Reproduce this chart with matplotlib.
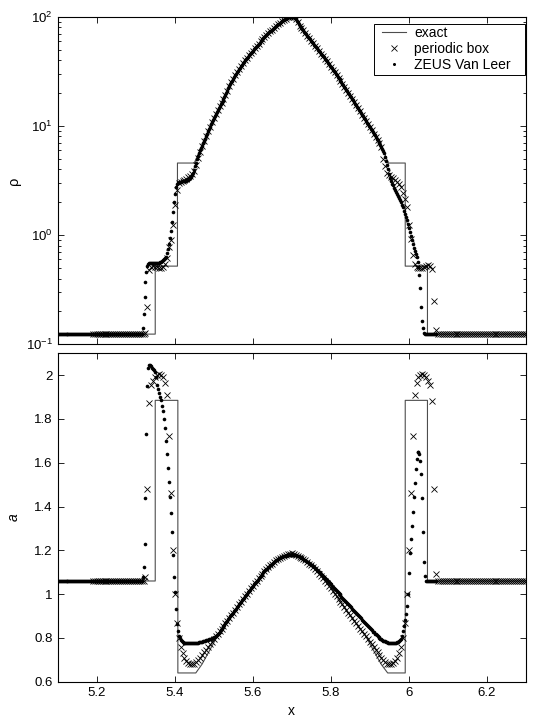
#-------------------------------------------------------------------------------
# plot.py
#
# Density rho (log scale) and a versus x: exact solution against the
# periodic box run and the ZEUS Van Leer run.
#-------------------------------------------------------------------------------

import numpy as np
import matplotlib
matplotlib.use('Agg')
import matplotlib.pyplot as plt
from matplotlib.lines import Line2D
from matplotlib.legend_handler import HandlerLine2D

#-------------------------------------------------------------------------------
# Exact solution, drawn as a line through these vertices.

x_exact_rho = [5.10, 5.35, 5.35, 5.407, 5.407, 5.45, 5.465, 5.48, 5.50, 5.525,
               5.55, 5.575, 5.60, 5.625, 5.65, 5.67, 5.685, 5.70, 5.71, 5.72,
               5.74, 5.76, 5.78, 5.80, 5.82, 5.84, 5.86, 5.88, 5.90, 5.92,
               5.935, 5.948, 5.991, 5.991, 6.048, 6.048, 6.30]
rho_exact = [0.124, 0.124, 0.52, 0.52, 4.57, 4.57, 6.0, 8.0, 11.8, 17.5,
             27.0, 37.5, 49.0, 62.0, 76.0, 88.0, 96.0, 100.0, 95.0, 83.0,
             67.0, 54.0, 43.5, 34.5, 27.5, 21.5, 16.5, 12.7, 9.7, 7.4,
             5.9, 4.57, 4.57, 0.52, 0.52, 0.124, 0.124]

x_exact_a = [5.10, 5.35, 5.35, 5.408, 5.408, 5.454, 5.47, 5.49, 5.51, 5.52,
             5.54, 5.56, 5.58, 5.60, 5.62, 5.64, 5.66, 5.68, 5.6975, 5.715,
             5.735, 5.755, 5.775, 5.795, 5.815, 5.835, 5.855, 5.875, 5.89, 5.91,
             5.93, 5.946, 5.991, 5.991, 6.048, 6.048, 6.30]
a_exact = [1.06, 1.06, 1.885, 1.885, 0.64, 0.64, 0.68, 0.745, 0.81, 0.843,
           0.892, 0.94, 0.99, 1.038, 1.083, 1.122, 1.154, 1.176, 1.186, 1.176,
           1.154, 1.122, 1.083, 1.038, 0.99, 0.94, 0.892, 0.843, 0.807, 0.742,
           0.678, 0.64, 0.64, 1.885, 1.885, 1.06, 1.06]

#-------------------------------------------------------------------------------
# Periodic box run: one value per cell, cells every 0.005 from 5.19 to 6.30.

x_box = np.round(np.arange(5.19, 6.30 + 1e-9, 0.005), 4)

rho_box = [
    0.124, 0.124, 0.124, 0.124, 0.124, 0.124, 0.124, 0.124, 0.124, 0.124,  # 5.19
    0.124, 0.124, 0.124, 0.124, 0.124, 0.124, 0.124, 0.124, 0.124, 0.124,  # 5.24
    0.124, 0.124, 0.124, 0.124, 0.124, 0.124, 0.124, 0.126, 0.22, 0.48,    # 5.29
    0.51, 0.52, 0.515, 0.51, 0.50, 0.50, 0.51, 0.54, 0.62, 0.78,           # 5.34
    0.90, 1.25, 1.9, 2.6, 3.0, 3.07, 3.14, 3.2, 3.28, 3.38,                # 5.39
    3.5, 3.65, 3.85, 4.4, 5.1, 5.8, 6.5, 7.2, 8.0, 8.9,                    # 5.44
    9.8, 10.8, 11.8, 12.9, 14.0, 15.1, 16.3, 17.5, 19.2, 21.0,             # 5.49
    23.0, 25.0, 27.0, 29.0, 31.0, 33.2, 35.3, 37.5, 39.8, 42.0,            # 5.54
    44.3, 46.6, 49.0, 51.5, 54.0, 56.6, 59.3, 62.0, 64.8, 67.6,            # 5.59
    70.3, 73.2, 76.0, 79.0, 82.0, 85.0, 88.0, 91.0, 94.0, 96.0,            # 5.64
    98.5, 99.5, 100.0, 98.5, 95.0, 89.0, 83.0, 79.0, 75.0, 71.0,           # 5.69
    67.0, 63.5, 60.3, 57.1, 54.0, 51.3, 48.5, 46.0, 43.5, 41.2,            # 5.74
    38.9, 36.7, 34.5, 32.7, 30.9, 29.2, 27.5, 25.9, 24.4, 22.9,            # 5.79
    21.5, 20.2, 18.9, 17.7, 16.5, 15.5, 14.5, 13.6, 12.7, 11.9,            # 5.84
    11.1, 10.4, 9.7, 9.1, 8.5, 7.9, 7.4, 6.9, 6.4, 5.0,                    # 5.89
    4.3, 3.7, 3.55, 3.42, 3.3, 3.18, 3.06, 2.93, 2.76, 2.45,               # 5.94
    2.15, 1.8, 1.25, 0.93, 0.66, 0.54, 0.51, 0.50, 0.50, 0.505,            # 5.99
    0.51, 0.52, 0.53, 0.52, 0.49, 0.25, 0.135, 0.124, 0.124, 0.124,        # 6.04
    0.124, 0.124, 0.124, 0.124, 0.124, 0.124, 0.124, 0.124, 0.124, 0.124,  # 6.09
    0.124, 0.124, 0.124, 0.124, 0.124, 0.124, 0.124, 0.124, 0.124, 0.124,  # 6.14
    0.124, 0.124, 0.124, 0.124, 0.124, 0.124, 0.124, 0.124, 0.124, 0.124,  # 6.19
    0.124, 0.124, 0.124, 0.124, 0.124, 0.124, 0.124, 0.124, 0.124, 0.124,  # 6.24
    0.124, 0.124, 0.124]                                                   # 6.29

a_box = [
    1.06, 1.06, 1.06, 1.06, 1.06, 1.06, 1.06, 1.06, 1.06, 1.06,                      # 5.19
    1.06, 1.06, 1.06, 1.06, 1.06, 1.06, 1.06, 1.06, 1.06, 1.06,                      # 5.24
    1.06, 1.06, 1.06, 1.06, 1.06, 1.06, 1.06, 1.08, 1.48, 1.875,                     # 5.29
    1.955, 1.975, 1.99, 2.0, 2.005, 2.0, 1.99, 1.965, 1.91, 1.72,                    # 5.34
    1.46, 1.2, 1.0, 0.87, 0.80, 0.76, 0.73, 0.71, 0.695, 0.685,                      # 5.39
    0.68, 0.679, 0.682, 0.688, 0.698, 0.71, 0.723, 0.735, 0.747, 0.759,              # 5.44
    0.771, 0.783, 0.795, 0.807, 0.819, 0.831, 0.843, 0.855, 0.867, 0.879,            # 5.49
    0.892, 0.904, 0.916, 0.928, 0.94, 0.953, 0.965, 0.978, 0.99, 1.002,              # 5.54
    1.014, 1.026, 1.038, 1.05, 1.061, 1.072, 1.083, 1.094, 1.104, 1.113,             # 5.59
    1.122, 1.131, 1.139, 1.147, 1.154, 1.16, 1.166, 1.171, 1.176, 1.18,              # 5.64
    1.183, 1.185, 1.186, 1.184, 1.18, 1.176, 1.171, 1.166, 1.16, 1.154,              # 5.69
    1.147, 1.139, 1.131, 1.122, 1.113, 1.104, 1.094, 1.083, 1.072, 1.061,            # 5.74
    1.05, 1.038, 1.026, 1.014, 1.002, 0.99, 0.978, 0.965, 0.953, 0.94,               # 5.79
    0.928, 0.916, 0.904, 0.892, 0.879, 0.867, 0.855, 0.843, 0.831, 0.819,            # 5.84
    0.807, 0.795, 0.783, 0.771, 0.759, 0.747, 0.735, 0.723, 0.71, 0.698,             # 5.89
    0.688, 0.682, 0.679, 0.68, 0.685, 0.695, 0.71, 0.73, 0.76, 0.80,                 # 5.94
    0.87, 1.0, 1.2, 1.46, 1.72, 1.91, 1.965, 1.99, 2.0, 2.005,                       # 5.99
    2.0, 1.99, 1.975, 1.955, 1.88, 1.48, 1.09, 1.06, 1.06, 1.06,                     # 6.04
    1.06, 1.06, 1.06, 1.06, 1.06, 1.06, 1.06, 1.06, 1.06, 1.06,                      # 6.09
    1.06, 1.06, 1.06, 1.06, 1.06, 1.06, 1.06, 1.06, 1.06, 1.06,                      # 6.14
    1.06, 1.06, 1.06, 1.06, 1.06, 1.06, 1.06, 1.06, 1.06, 1.06,                      # 6.19
    1.06, 1.06, 1.06, 1.06, 1.06, 1.06, 1.06, 1.06, 1.06, 1.06,                      # 6.24
    1.06, 1.06, 1.06]                                                                # 6.29

#-------------------------------------------------------------------------------
# ZEUS Van Leer run: cells every 0.0025 from 5.10 to 6.07.

x_zeus = np.round(np.arange(5.10, 6.07 + 1e-9, 0.0025), 5)

rho_zeus = [
    0.124, 0.124, 0.124, 0.124, 0.124, 0.124, 0.124, 0.124, 0.124, 0.124,
    0.124, 0.124, 0.124, 0.124, 0.124, 0.124, 0.124, 0.124, 0.124, 0.124,  # 5.10
    0.124, 0.124, 0.124, 0.124, 0.124, 0.124, 0.124, 0.124, 0.124, 0.124,
    0.124, 0.124, 0.124, 0.124, 0.124, 0.124, 0.124, 0.124, 0.124, 0.124,  # 5.15
    0.124, 0.124, 0.124, 0.124, 0.124, 0.124, 0.124, 0.124, 0.124, 0.124,
    0.124, 0.124, 0.124, 0.124, 0.124, 0.124, 0.124, 0.124, 0.124, 0.124,  # 5.20
    0.124, 0.124, 0.124, 0.124, 0.124, 0.124, 0.124, 0.124, 0.124, 0.124,
    0.124, 0.124, 0.124, 0.124, 0.124, 0.124, 0.124, 0.124, 0.124, 0.124,  # 5.25
    0.124, 0.124, 0.124, 0.124, 0.124, 0.124, 0.124, 0.14, 0.19, 0.27,
    0.37, 0.46, 0.52, 0.545, 0.55, 0.55, 0.55, 0.55, 0.55, 0.55,           # 5.30
    0.55, 0.552, 0.555, 0.558, 0.56, 0.565, 0.57, 0.58, 0.59, 0.60,
    0.615, 0.635, 0.68, 0.74, 0.83, 0.95, 1.10, 1.32, 1.62, 2.0,           # 5.35
    2.4, 2.75, 2.95, 3.03, 3.06, 3.08, 3.09, 3.10, 3.10, 3.11,
    3.12, 3.13, 3.15, 3.17, 3.2, 3.25, 3.32, 3.42, 3.55, 3.72,             # 5.40
    3.95, 4.25, 4.6, 4.95, 5.3, 5.65, 6.0, 6.3, 6.6, 6.95,
    7.3, 7.65, 8.0, 8.45, 8.9, 9.35, 9.8, 10.3, 10.8, 11.3,                # 5.45
    11.8, 12.35, 12.9, 13.45, 14.0, 14.55, 15.1, 15.7, 16.3, 16.9,
    17.5, 18.35, 19.2, 20.1, 21.0, 22.0, 23.0, 24.0, 25.0, 26.0,           # 5.50
    27.0, 28.0, 29.0, 30.0, 31.0, 32.1, 33.2, 34.2, 35.3, 36.4,
    37.5, 38.6, 39.8, 40.9, 42.0, 43.1, 44.3, 45.4, 46.6, 47.8,            # 5.55
    49.0, 50.2, 51.5, 52.7, 54.0, 55.3, 56.6, 57.9, 59.3, 60.6,
    62.0, 63.4, 64.8, 66.2, 67.6, 69.0, 70.3, 71.7, 73.2, 74.6,            # 5.60
    76.0, 77.5, 79.0, 80.5, 82.0, 83.5, 85.0, 86.5, 88.0, 89.5,
    91.0, 92.5, 94.0, 95.0, 96.0, 97.3, 98.5, 99.0, 99.5, 99.8,            # 5.65
    100.0, 99.5, 98.5, 97.0, 95.0, 92.0, 89.0, 86.0, 83.0, 81.0,
    79.0, 77.0, 75.0, 73.0, 71.0, 69.0, 67.0, 65.2, 63.5, 61.9,            # 5.70
    60.3, 58.7, 57.1, 55.5, 54.0, 52.6, 51.3, 49.9, 48.5, 47.2,
    46.0, 44.7, 43.5, 42.3, 41.2, 40.0, 38.9, 37.8, 36.7, 35.6,            # 5.75
    34.5, 33.6, 32.7, 31.8, 30.9, 30.0, 29.2, 28.3, 27.5, 26.7,
    25.9, 25.1, 24.4, 23.6, 22.9, 22.2, 21.5, 20.8, 20.2, 19.5,            # 5.80
    18.9, 18.3, 17.7, 17.1, 16.5, 16.0, 15.5, 15.0, 14.5, 14.0,
    13.6, 13.1, 12.7, 12.3, 11.9, 11.5, 11.1, 10.7, 10.4, 10.0,            # 5.85
    9.7, 9.4, 9.1, 8.8, 8.5, 8.2, 7.9, 7.65, 7.4, 7.15,
    6.9, 6.65, 6.4, 6.15, 5.9, 5.6, 5.2, 4.8, 4.4, 4.0,                    # 5.90
    3.6, 3.3, 3.1, 2.95, 2.85, 2.72, 2.6, 2.5, 2.4, 2.3,
    2.2, 2.1, 2.0, 1.9, 1.8, 1.68, 1.57, 1.47, 1.37, 1.27,                 # 5.95
    1.17, 1.07, 0.98, 0.90, 0.83, 0.77, 0.72, 0.67, 0.63, 0.57,
    0.51, 0.43, 0.33, 0.22, 0.165, 0.14, 0.128, 0.124, 0.124, 0.124,       # 6.00
    0.124, 0.124, 0.124, 0.124, 0.124, 0.124, 0.124, 0.124, 0.124]         # 6.05

a_zeus = [
    1.06, 1.06, 1.06, 1.06, 1.06, 1.06, 1.06, 1.06, 1.06, 1.06,
    1.06, 1.06, 1.06, 1.06, 1.06, 1.06, 1.06, 1.06, 1.06, 1.06,            # 5.10
    1.06, 1.06, 1.06, 1.06, 1.06, 1.06, 1.06, 1.06, 1.06, 1.06,
    1.06, 1.06, 1.06, 1.06, 1.06, 1.06, 1.06, 1.06, 1.06, 1.06,            # 5.15
    1.06, 1.06, 1.06, 1.06, 1.06, 1.06, 1.06, 1.06, 1.06, 1.06,
    1.06, 1.06, 1.06, 1.06, 1.06, 1.06, 1.06, 1.06, 1.06, 1.06,            # 5.20
    1.06, 1.06, 1.06, 1.06, 1.06, 1.06, 1.06, 1.06, 1.06, 1.06,
    1.06, 1.06, 1.06, 1.06, 1.06, 1.06, 1.06, 1.06, 1.06, 1.06,            # 5.25
    1.06, 1.06, 1.06, 1.06, 1.06, 1.06, 1.06, 1.08, 1.125, 1.23,
    1.44, 1.73, 1.95, 2.035, 2.045, 2.045, 2.04, 2.035, 2.03, 2.025,       # 5.30
    2.015, 1.99, 1.955, 1.935, 1.92, 1.90, 1.885, 1.86, 1.835, 1.80,
    1.76, 1.70, 1.64, 1.575, 1.51, 1.445, 1.37, 1.285, 1.18, 1.08,         # 5.35
    1.01, 0.93, 0.865, 0.83, 0.81, 0.80, 0.792, 0.786, 0.782, 0.779,
    0.777, 0.776, 0.775, 0.775, 0.775, 0.775, 0.775, 0.775, 0.776, 0.776,  # 5.40
    0.777, 0.777, 0.778, 0.778, 0.779, 0.780, 0.781, 0.782, 0.783, 0.784,
    0.786, 0.787, 0.789, 0.790, 0.792, 0.793, 0.795, 0.797, 0.799, 0.801,  # 5.45
    0.803, 0.806, 0.809, 0.813, 0.817, 0.822, 0.828, 0.834, 0.841, 0.848,
    0.855, 0.861, 0.867, 0.873, 0.879, 0.885, 0.892, 0.898, 0.904, 0.91,   # 5.50
    0.916, 0.922, 0.928, 0.934, 0.94, 0.946, 0.953, 0.959, 0.965, 0.971,
    0.978, 0.984, 0.99, 0.996, 1.002, 1.008, 1.014, 1.02, 1.026, 1.032,    # 5.55
    1.038, 1.044, 1.05, 1.055, 1.061, 1.066, 1.072, 1.077, 1.083, 1.088,
    1.094, 1.099, 1.104, 1.108, 1.113, 1.117, 1.122, 1.126, 1.131, 1.135,  # 5.60
    1.139, 1.143, 1.147, 1.15, 1.154, 1.157, 1.16, 1.163, 1.166, 1.168,
    1.17, 1.172, 1.174, 1.175, 1.176, 1.177, 1.178, 1.179, 1.179, 1.18,    # 5.65
    1.18, 1.18, 1.179, 1.178, 1.177, 1.176, 1.175, 1.173, 1.171, 1.169,
    1.167, 1.164, 1.161, 1.158, 1.155, 1.152, 1.149, 1.145, 1.141, 1.137,  # 5.70
    1.135, 1.131, 1.127, 1.123, 1.119, 1.115, 1.111, 1.107, 1.103, 1.099,
    1.094, 1.089, 1.084, 1.079, 1.074, 1.069, 1.064, 1.059, 1.054, 1.049,  # 5.75
    1.044, 1.039, 1.034, 1.029, 1.024, 1.019, 1.014, 1.009, 1.004, 0.999,
    0.994, 0.989, 0.984, 0.979, 0.974, 0.969, 0.964, 0.959, 0.954, 0.949,  # 5.80
    0.944, 0.939, 0.934, 0.929, 0.924, 0.919, 0.914, 0.909, 0.904, 0.899,
    0.894, 0.889, 0.884, 0.879, 0.874, 0.869, 0.864, 0.859, 0.854, 0.849,  # 5.85
    0.844, 0.839, 0.834, 0.829, 0.825, 0.82, 0.816, 0.812, 0.808, 0.804,
    0.8, 0.797, 0.794, 0.791, 0.788, 0.786, 0.784, 0.782, 0.78, 0.779,     # 5.90
    0.778, 0.777, 0.776, 0.776, 0.776, 0.777, 0.778, 0.779, 0.781, 0.783,
    0.786, 0.79, 0.796, 0.808, 0.83, 0.855, 0.88, 0.91, 0.945, 1.0,        # 5.95
    1.095, 1.19, 1.25, 1.313, 1.377, 1.445, 1.509, 1.57, 1.616, 1.648,
    1.651, 1.639, 1.61, 1.55, 1.44, 1.284, 1.146, 1.083, 1.062, 1.06,      # 6.00
    1.06, 1.06, 1.06, 1.06, 1.06, 1.06, 1.06, 1.06, 1.06]                  # 6.05

#-------------------------------------------------------------------------------
# Axis ticks and labels.

x_ticks = [5.2, 5.4, 5.6, 5.8, 6.0, 6.2]
x_ticklabels = ['5.2', '5.4', '5.6', '5.8', '6', '6.2']
a_ticks = [0.6, 0.8, 1.0, 1.2, 1.4, 1.6, 1.8, 2.0]
a_ticklabels = ['0.6', '0.8', '1', '1.2', '1.4', '1.6', '1.8', '2']

assert len(rho_box) == len(x_box) and len(a_box) == len(x_box)
assert len(rho_zeus) == len(x_zeus) and len(a_zeus) == len(x_zeus)

#-------------------------------------------------------------------------------

plt.rcParams['font.family'] = ['Liberation Sans', 'DejaVu Sans']
plt.rcParams['mathtext.fontset'] = 'custom'
plt.rcParams['mathtext.rm'] = 'Liberation Sans'
plt.rcParams['mathtext.it'] = 'Liberation Sans:italic'

exact_style = dict(linestyle='-', color='#4d4d4d', lw=0.8, zorder=2)
box_style = dict(linestyle='none', marker='x', color='k', ms=4.8, mew=0.6, zorder=4)
zeus_style = dict(linestyle='none', marker='o', color='k', ms=2.6, mew=0, zorder=3)


def style_axes(ax):
    # Matlab look: ticks inside on all four sides, thin black frame.
    ax.tick_params(which='both', direction='in', top=True, right=True,
                   labelsize=9.5, width=0.6)
    ax.tick_params(which='major', length=4)
    ax.tick_params(which='minor', length=2.2)
    for spine in ax.spines.values():
        spine.set_linewidth(0.8)


fig = plt.figure(figsize=(5.35, 7.22), dpi=100)

# Top panel: rho on a log scale.
ax1 = fig.add_axes([0.1079, 0.5231, 0.8748, 0.4538])
ax1.plot(x_exact_rho, rho_exact, label='exact', **exact_style)
ax1.plot(x_box, rho_box, label='periodic box', **box_style)
ax1.plot(x_zeus, rho_zeus, label='ZEUS Van Leer\u00a0\u00a0\u00a0', **zeus_style)
ax1.set_yscale('log')
ax1.set_xlim(5.1, 6.3)
ax1.set_ylim(0.1, 100)
ax1.set_xticks(x_ticks)
ax1.set_xticklabels([])
ax1.set_ylabel('\u03c1', fontsize=10.5)
ax1.yaxis.set_label_coords(-0.078, 0.5)
style_axes(ax1)

leg = ax1.legend(loc='upper right', bbox_to_anchor=(0.998, 0.979),
                 borderaxespad=0, fancybox=False, framealpha=1,
                 edgecolor='k', fontsize=10, handlelength=2.1,
                 handletextpad=0.58, borderpad=0.18, labelspacing=0.15,
                 handler_map={Line2D: HandlerLine2D(xpad=0.37)})
leg.get_frame().set_linewidth(0.7)
for handle in leg.legend_handles:
    handle.set_markersize(4.2 if handle.get_marker() == 'x' else 2.2)

# Bottom panel: a on a linear scale.
ax2 = fig.add_axes([0.1079, 0.0558, 0.8748, 0.4549])
ax2.plot(x_exact_a, a_exact, **exact_style)
ax2.plot(x_box, a_box, **box_style)
ax2.plot(x_zeus, a_zeus, **zeus_style)
ax2.set_xlim(5.1, 6.3)
ax2.set_ylim(0.6, 2.1)
ax2.set_xticks(x_ticks)
ax2.set_xticklabels(x_ticklabels)
ax2.set_yticks(a_ticks)
ax2.set_yticklabels(a_ticklabels)
ax2.set_xlabel('x', fontsize=10)
ax2.set_ylabel(r'$a$', fontsize=10)
ax2.yaxis.set_label_coords(-0.078, 0.5)
style_axes(ax2)

plt.savefig('out.png', dpi=100)
plt.close()
